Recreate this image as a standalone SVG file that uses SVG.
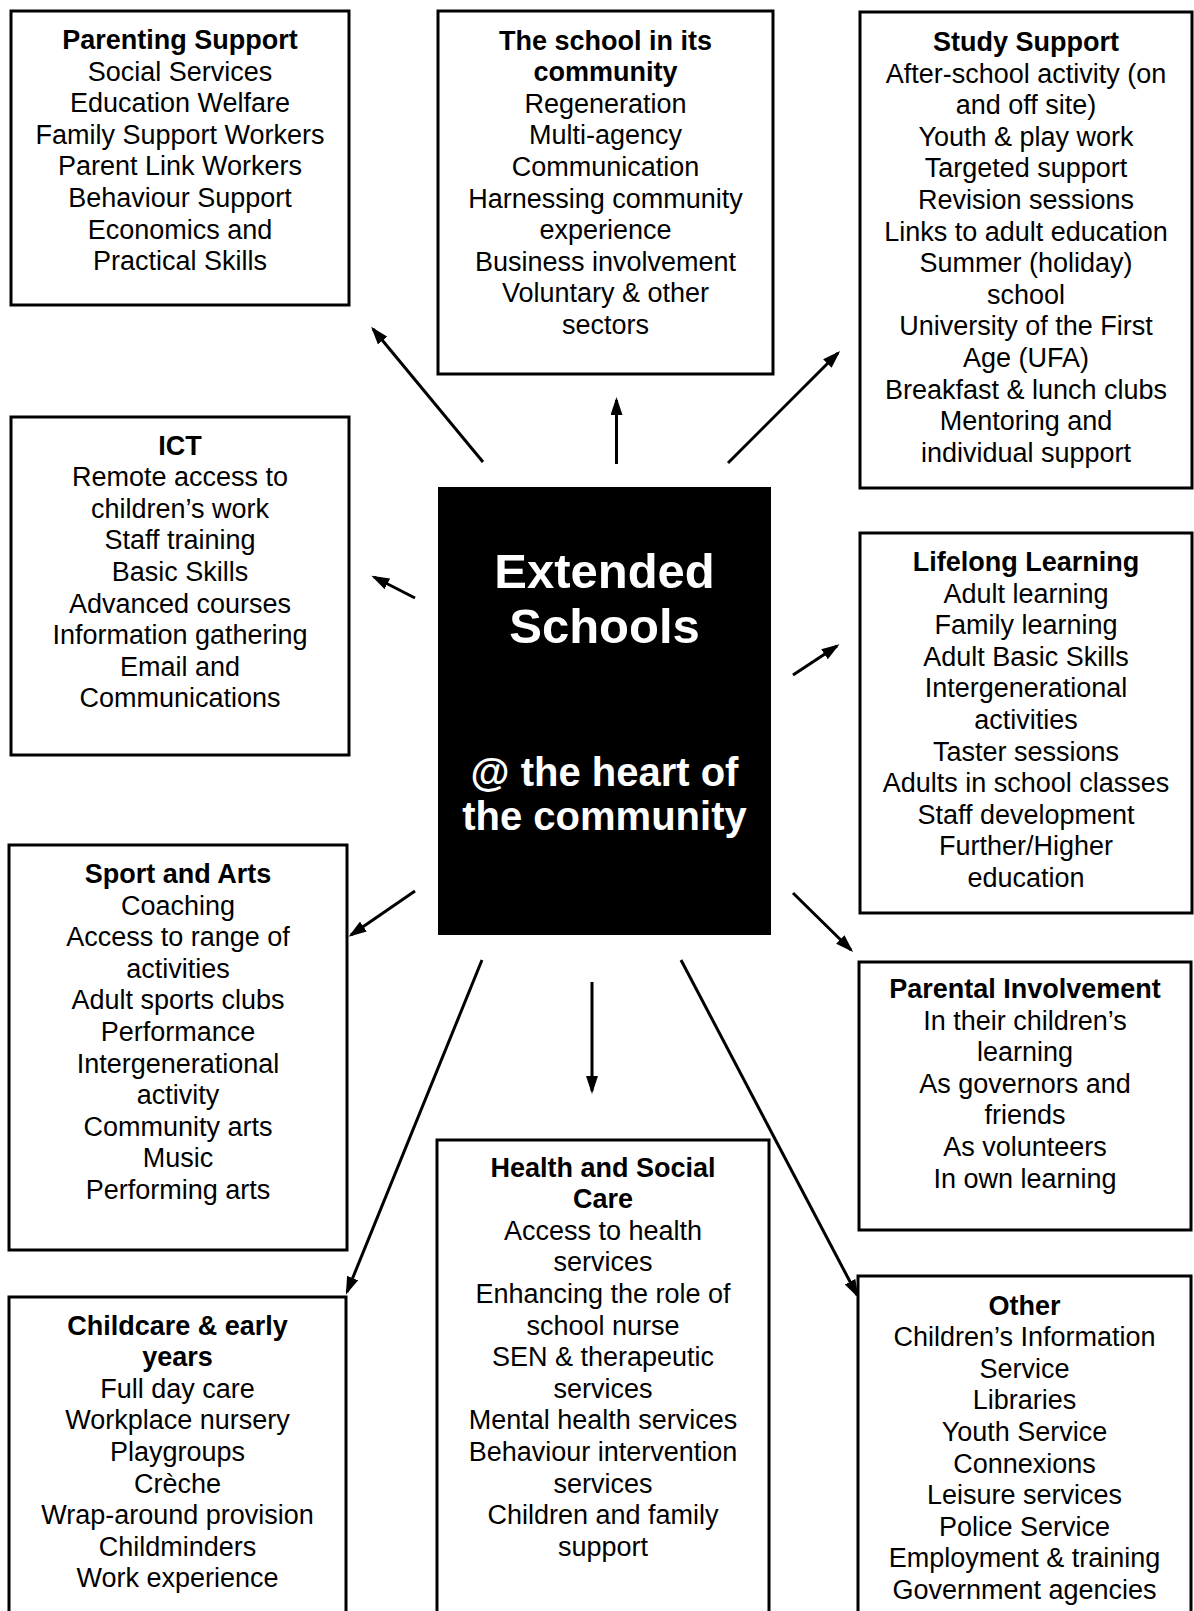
<svg xmlns="http://www.w3.org/2000/svg" width="1194" height="1611" viewBox="0 0 1194 1611">
<defs>
<style>
.box{fill:#fff;stroke:#000;stroke-width:3}
.t{font-family:"Liberation Sans",Arial,sans-serif;font-size:27px;fill:#000;text-anchor:middle}
.b{font-weight:bold}
.c{font-family:"Liberation Sans",Arial,sans-serif;font-weight:bold;fill:#fff;text-anchor:middle}
.arr{stroke:#000;stroke-width:3;fill:none;marker-end:url(#ah)}
</style>
<marker id="ah" markerUnits="userSpaceOnUse" markerWidth="18" markerHeight="12" refX="15" refY="6" orient="auto">
<path d="M0,0 L18,6 L0,12 z" fill="#000"/>
</marker>
</defs>
<rect width="1194" height="1611" fill="#fff"/>

<g id="parenting">
<rect class="box" x="11" y="11" width="338" height="294"/>
<text class="t" x="180" y="49"><tspan class="b" x="180">Parenting Support</tspan><tspan x="180" dy="31.6">Social Services</tspan><tspan x="180" dy="31.6">Education Welfare</tspan><tspan x="180" dy="31.6">Family Support Workers</tspan><tspan x="180" dy="31.6">Parent Link Workers</tspan><tspan x="180" dy="31.6">Behaviour Support</tspan><tspan x="180" dy="31.6">Economics and</tspan><tspan x="180" dy="31.6">Practical Skills</tspan></text>
</g>

<g id="school-community">
<rect class="box" x="438" y="11" width="335" height="363"/>
<text class="t" x="605.5" y="49.5"><tspan class="b" x="605.5">The school in its</tspan><tspan class="b" x="605.5" dy="31.6">community</tspan><tspan x="605.5" dy="31.6">Regeneration</tspan><tspan x="605.5" dy="31.6">Multi-agency</tspan><tspan x="605.5" dy="31.6">Communication</tspan><tspan x="605.5" dy="31.6">Harnessing community</tspan><tspan x="605.5" dy="31.6">experience</tspan><tspan x="605.5" dy="31.6">Business involvement</tspan><tspan x="605.5" dy="31.6">Voluntary &amp; other</tspan><tspan x="605.5" dy="31.6">sectors</tspan></text>
</g>

<g id="study-support">
<rect class="box" x="860" y="12" width="332" height="476"/>
<text class="t" x="1026" y="51"><tspan class="b" x="1026">Study Support</tspan><tspan x="1026" dy="31.6">After-school activity (on</tspan><tspan x="1026" dy="31.6">and off site)</tspan><tspan x="1026" dy="31.6">Youth &amp; play work</tspan><tspan x="1026" dy="31.6">Targeted support</tspan><tspan x="1026" dy="31.6">Revision sessions</tspan><tspan x="1026" dy="31.6">Links to adult education</tspan><tspan x="1026" dy="31.6">Summer (holiday)</tspan><tspan x="1026" dy="31.6">school</tspan><tspan x="1026" dy="31.6">University of the First</tspan><tspan x="1026" dy="31.6">Age (UFA)</tspan><tspan x="1026" dy="31.6">Breakfast &amp; lunch clubs</tspan><tspan x="1026" dy="31.6">Mentoring and</tspan><tspan x="1026" dy="31.6">individual support</tspan></text>
</g>

<g id="ict">
<rect class="box" x="11" y="417" width="338" height="338"/>
<text class="t" x="180" y="454.5"><tspan class="b" x="180">ICT</tspan><tspan x="180" dy="31.6">Remote access to</tspan><tspan x="180" dy="31.6">children’s work</tspan><tspan x="180" dy="31.6">Staff training</tspan><tspan x="180" dy="31.6">Basic Skills</tspan><tspan x="180" dy="31.6">Advanced courses</tspan><tspan x="180" dy="31.6">Information gathering</tspan><tspan x="180" dy="31.6">Email and</tspan><tspan x="180" dy="31.6">Communications</tspan></text>
</g>

<g id="extended-schools">
<rect x="438" y="487" width="333" height="448" fill="#000"/>
<text class="c" x="604.5" y="588" font-size="49">Extended</text>
<text class="c" x="604.5" y="643" font-size="49">Schools</text>
<text class="c" x="604.5" y="786" font-size="40">@ the heart of</text>
<text class="c" x="604.5" y="830" font-size="40">the community</text>
</g>

<g id="lifelong-learning">
<rect class="box" x="860" y="533" width="332" height="380"/>
<text class="t" x="1026" y="571"><tspan class="b" x="1026">Lifelong Learning</tspan><tspan x="1026" dy="31.6">Adult learning</tspan><tspan x="1026" dy="31.6">Family learning</tspan><tspan x="1026" dy="31.6">Adult Basic Skills</tspan><tspan x="1026" dy="31.6">Intergenerational</tspan><tspan x="1026" dy="31.6">activities</tspan><tspan x="1026" dy="31.6">Taster sessions</tspan><tspan x="1026" dy="31.6">Adults in school classes</tspan><tspan x="1026" dy="31.6">Staff development</tspan><tspan x="1026" dy="31.6">Further/Higher</tspan><tspan x="1026" dy="31.6">education</tspan></text>
</g>

<g id="sport-arts">
<rect class="box" x="9" y="845" width="338" height="405"/>
<text class="t" x="178" y="883"><tspan class="b" x="178">Sport and Arts</tspan><tspan x="178" dy="31.6">Coaching</tspan><tspan x="178" dy="31.6">Access to range of</tspan><tspan x="178" dy="31.6">activities</tspan><tspan x="178" dy="31.6">Adult sports clubs</tspan><tspan x="178" dy="31.6">Performance</tspan><tspan x="178" dy="31.6">Intergenerational</tspan><tspan x="178" dy="31.6">activity</tspan><tspan x="178" dy="31.6">Community arts</tspan><tspan x="178" dy="31.6">Music</tspan><tspan x="178" dy="31.6">Performing arts</tspan></text>
</g>

<g id="parental-involvement">
<rect class="box" x="859" y="962" width="332" height="268"/>
<text class="t" x="1025" y="998"><tspan class="b" x="1025">Parental Involvement</tspan><tspan x="1025" dy="31.6">In their children’s</tspan><tspan x="1025" dy="31.6">learning</tspan><tspan x="1025" dy="31.6">As governors and</tspan><tspan x="1025" dy="31.6">friends</tspan><tspan x="1025" dy="31.6">As volunteers</tspan><tspan x="1025" dy="31.6">In own learning</tspan></text>
</g>

<g id="health-social-care">
<rect class="box" x="437" y="1140" width="332" height="480"/>
<text class="t" x="603" y="1176.5"><tspan class="b" x="603">Health and Social</tspan><tspan class="b" x="603" dy="31.6">Care</tspan><tspan x="603" dy="31.6">Access to health</tspan><tspan x="603" dy="31.6">services</tspan><tspan x="603" dy="31.6">Enhancing the role of</tspan><tspan x="603" dy="31.6">school nurse</tspan><tspan x="603" dy="31.6">SEN &amp; therapeutic</tspan><tspan x="603" dy="31.6">services</tspan><tspan x="603" dy="31.6">Mental health services</tspan><tspan x="603" dy="31.6">Behaviour intervention</tspan><tspan x="603" dy="31.6">services</tspan><tspan x="603" dy="31.6">Children and family</tspan><tspan x="603" dy="31.6">support</tspan></text>
</g>

<g id="childcare">
<rect class="box" x="9" y="1297" width="337" height="323"/>
<text class="t" x="177.5" y="1334.5"><tspan class="b" x="177.5">Childcare &amp; early</tspan><tspan class="b" x="177.5" dy="31.6">years</tspan><tspan x="177.5" dy="31.6">Full day care</tspan><tspan x="177.5" dy="31.6">Workplace nursery</tspan><tspan x="177.5" dy="31.6">Playgroups</tspan><tspan x="177.5" dy="31.6">Crèche</tspan><tspan x="177.5" dy="31.6">Wrap-around provision</tspan><tspan x="177.5" dy="31.6">Childminders</tspan><tspan x="177.5" dy="31.6">Work experience</tspan></text>
</g>

<g id="other">
<rect class="box" x="858" y="1276" width="333" height="344"/>
<text class="t" x="1024.5" y="1314.5"><tspan class="b" x="1024.5">Other</tspan><tspan x="1024.5" dy="31.6">Children’s Information</tspan><tspan x="1024.5" dy="31.6">Service</tspan><tspan x="1024.5" dy="31.6">Libraries</tspan><tspan x="1024.5" dy="31.6">Youth Service</tspan><tspan x="1024.5" dy="31.6">Connexions</tspan><tspan x="1024.5" dy="31.6">Leisure services</tspan><tspan x="1024.5" dy="31.6">Police Service</tspan><tspan x="1024.5" dy="31.6">Employment &amp; training</tspan><tspan x="1024.5" dy="31.6">Government agencies</tspan></text>
</g>

<g id="connectors">
<line class="arr" x1="483" y1="462" x2="373" y2="329"/>
<line class="arr" x1="616.5" y1="464" x2="616.5" y2="400"/>
<line class="arr" x1="728" y1="463" x2="838" y2="353"/>
<line class="arr" x1="415" y1="598" x2="374" y2="577"/>
<line class="arr" x1="793" y1="675" x2="837" y2="646"/>
<line class="arr" x1="415" y1="891" x2="351" y2="935"/>
<line class="arr" x1="482" y1="960" x2="347" y2="1292"/>
<line class="arr" x1="592" y1="982" x2="592" y2="1091"/>
<line class="arr" x1="793" y1="893" x2="851" y2="950"/>
<line class="arr" x1="681" y1="960" x2="857" y2="1295"/>
</g>
</svg>
